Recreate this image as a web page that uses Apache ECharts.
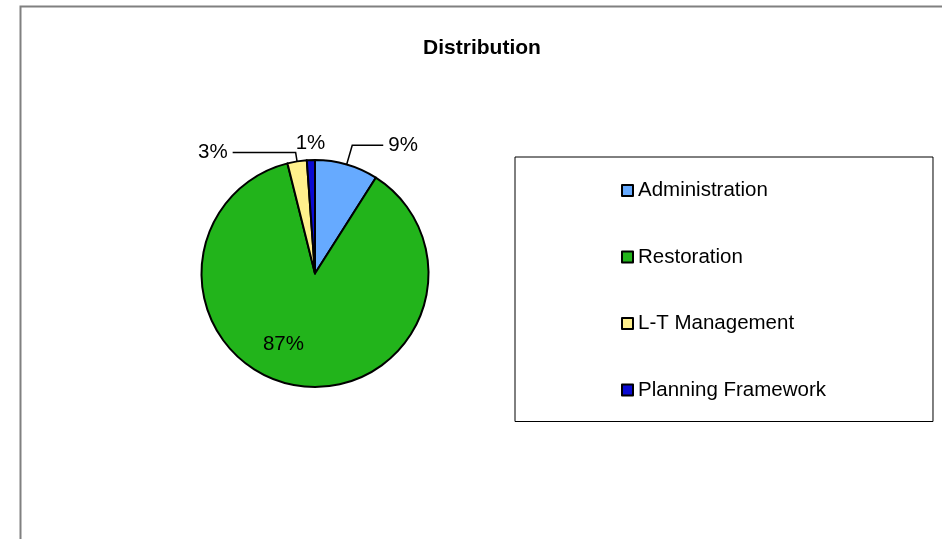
<!DOCTYPE html>
<html>
<head>
<meta charset="utf-8">
<script src="https://cdn.jsdelivr.net/npm/echarts@6/dist/echarts.min.js"></script>
<style>
  html, body { margin: 0; padding: 0; background: #fff; }
  #chart { width: 942px; height: 539px; }
</style>
</head>
<body>
<div id="chart"></div>
<script>
const categories = ['Administration', 'Restoration', 'L-T Management', 'Planning Framework']
const shares = [9.0, 87.1, 2.75, 1.15]
const sliceColors = ['#66aaff', '#22b41b', '#fff08c', '#0a0ad2']

const font = "'Liberation Sans', Arial, sans-serif"

// per-slice label tweaks (Excel puts these labels in its own spots)
const labelLines = [
  { length: 20, length2: 31, show: true },
  { show: false },
  { length: 9, length2: 63, show: true },
  { length: 17, length2: 0, show: false },
]
const labelShift = [null, { dx: -22, dy: 12 }, null, { dx: 20, dy: 0 }]

const chart = echarts.init(document.getElementById('chart'))

chart.setOption({
  animation: false,
  backgroundColor: '#fff',
  graphic: [
    {
      type: 'rect',
      shape: { x: 20.5, y: 6.5, width: 940, height: 560 },
      style: { fill: 'none', stroke: '#808080', lineWidth: 2 },
      silent: true,
    },
  ],
  title: {
    text: 'Distribution',
    left: 477,
    top: 33,
    textAlign: 'center',
    textStyle: { fontFamily: font, fontSize: 21, fontWeight: 'bold', color: '#000' },
  },
  legend: {
    orient: 'vertical',
    left: 515,
    top: 157,
    padding: [23, 107, 21, 106],
    borderColor: '#000',
    borderWidth: 1,
    itemGap: 45.5,
    itemWidth: 11,
    itemHeight: 11,
    icon: 'rect',
    itemStyle: { borderColor: '#000', borderWidth: 2 },
    textStyle: { fontFamily: font, fontSize: 20.5, color: '#000' },
    data: categories,
  },
  series: [
    {
      type: 'pie',
      center: [315, 273.5],
      radius: 113.5,
      startAngle: 90,
      clockwise: true,
      avoidLabelOverlap: false,
      itemStyle: { borderColor: '#000', borderWidth: 2 },
      label: {
        show: true,
        position: 'outside',
        fontFamily: font,
        fontSize: 20.5,
        color: '#000',
        formatter: (p) => Math.round(p.percent) + '%',
      },
      labelLine: { lineStyle: { color: '#000', width: 1.5 } },
      labelLayout: (p) => labelShift[p.dataIndex] || {},
      data: categories.map((name, i) => ({
        name,
        value: shares[i],
        itemStyle: { color: sliceColors[i] },
        label: i === 1 ? { position: 'inside' } : {},
        labelLine: labelLines[i],
      })),
    },
  ],
})
</script>
</body>
</html>
